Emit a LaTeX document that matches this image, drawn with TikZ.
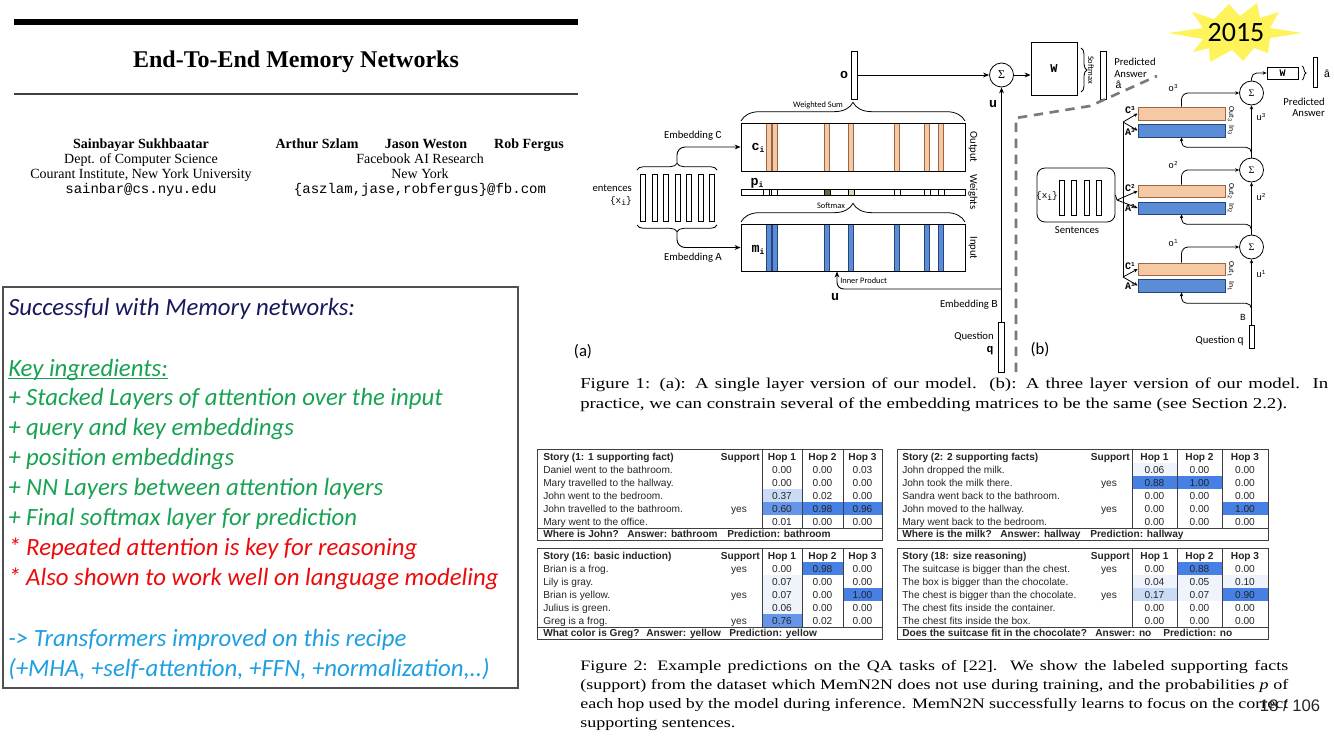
\documentclass[tikz,border=0pt]{standalone}
\usepackage{fontspec}
\setmainfont{Liberation Serif}
\newfontfamily\slidefont{Carlito}
\newfontfamily\tabfont{Liberation Sans}
\newfontfamily\codefont{Liberation Mono}
\usetikzlibrary{arrows.meta,decorations.pathreplacing,decorations.pathmorphing,fit,calc}

\definecolor{headnavy}{HTML}{17195C}
\definecolor{keygreen}{HTML}{17A352}
\definecolor{keyred}{HTML}{EE0A0A}
\definecolor{keyblue}{HTML}{1E9FE2}
\definecolor{outfill}{HTML}{F6C9A5}
\definecolor{outedge}{HTML}{9C6644}
\definecolor{infill}{HTML}{5A8DD5}
\definecolor{inedge}{HTML}{24467C}
\definecolor{wdark}{HTML}{56703F}
\definecolor{wlight}{HTML}{CFDDB8}
\definecolor{hopA}{HTML}{EEF3FC}
\definecolor{hopB}{HTML}{CADBF7}
\definecolor{hopC}{HTML}{6495E8}
\definecolor{hopD}{HTML}{4680E4}
\definecolor{burst}{HTML}{FFF35C}
\definecolor{framegray}{HTML}{505050}
\definecolor{dashgray}{HTML}{7A7A7A}

% small sub- and superscripts for the figure labels
\newcommand\lowi[1]{\raisebox{-1.8pt}{\fontsize{6}{6}\selectfont #1}}
\newcommand\upi[1]{\raisebox{2.8pt}{\fontsize{4.5}{4.5}\selectfont #1}}
\newcommand\sfsub[1]{\raisebox{-1pt}{\fontsize{4.5}{4.5}\selectfont #1}}
% caption lines of the pasted paper, which is widened on the slide
\newcommand\wideline[2]{\scalebox{1.25}[1]{\makebox[#1][s]{#2}}}
\newcommand\wide[1]{\scalebox{1.25}[1]{#1}}

\newlength\sqA
\newlength\sqB

% result tables: frame, header, story rows, question row, shaded cells
\newcommand\tframe{%
  \draw[tline] (\tL,\tT) rectangle (\tR,\tT+91);
  \draw[tline] (\tL,\tT+79) -- (\tR,\tT+79);
  \draw[tline] (\cA,\tT) -- (\cA,\tT+79) (\cB,\tT) -- (\cB,\tT+79) (\cC,\tT) -- (\cC,\tT+79);}
\newcommand\hl[4]{\fill[#4] (#1,\tT+1+13*#3) rectangle (#2,\tT+14+13*#3);}
\newcommand\thead[1]{%
  \node[tbold, anchor=base west, name=\tp-head] at (\tX,\tT+11) {#1};
  \node[tbold, anchor=base east, name=\tp-sup] at (\cA-2,\tT+11) {Support};
  \node[tbold, anchor=base, name=\tp-h1] at ({(\cA+\cB)/2},\tT+11) {Hop 1};
  \node[tbold, anchor=base, name=\tp-h2] at ({(\cB+\cC)/2},\tT+11) {Hop 2};
  \node[tbold, anchor=base, name=\tp-h3] at ({(\cC+\tR)/2},\tT+11) {Hop 3};}
\newcommand\trow[6]{%
  \node[tcell, anchor=base west, name=\tp-#1s] at (\tX,\tT+11+13*#1) {#2};
  \node[tcell, anchor=base, name=\tp-#1y] at (\cA-23,\tT+11+13*#1) {#3};
  \node[tcell, anchor=base, name=\tp-#1a] at ({(\cA+\cB)/2},\tT+11+13*#1) {#4};
  \node[tcell, anchor=base, name=\tp-#1b] at ({(\cB+\cC)/2},\tT+11+13*#1) {#5};
  \node[tcell, anchor=base, name=\tp-#1c] at ({(\cC+\tR)/2},\tT+11+13*#1) {#6};}
\newcommand\tquest[5]{%
  \node[tbold, anchor=base west, name=\tp-q] at (\tX,\tT+88.5) {#1};
  \node[tbold, anchor=base west, name=\tp-ans] at (#2,\tT+88.5) {#3};
  \node[tbold, anchor=base west, name=\tp-pred] at (#4,\tT+88.5) {#5};}

\begin{document}
\begin{tikzpicture}[x=0.75pt, y=-0.75pt,
  lbl/.style={inner sep=0pt, font=\slidefont\fontsize{8}{9}\selectfont},
  tinylbl/.style={inner sep=0pt, font=\slidefont\fontsize{6.3}{7}\selectfont},
  code/.style={inner sep=0pt, font=\codefont\bfseries\fontsize{10}{11}\selectfont},
  scode/.style={inner sep=0pt, font=\codefont\bfseries\fontsize{7.5}{8}\selectfont},
  vecbox/.style={draw, line width=0.55pt, inner sep=0pt, fill=white},
  membox/.style={draw, line width=0.6pt, inner sep=0pt},
  outbox/.style={draw=outedge, fill=outfill, line width=0.5pt, inner sep=0pt},
  inbox/.style={draw=inedge, fill=infill, line width=0.5pt, inner sep=0pt},
  sumnode/.style={draw, circle, line width=0.6pt, minimum size=18pt, inner sep=0pt, font=\fontsize{9}{9}\selectfont},
  brc/.style={decorate, line width=0.6pt},
  arr/.style={line width=0.7pt, -{Stealth[length=4.5pt,width=3.6pt]}},
  sarr/.style={line width=0.6pt, -{Stealth[length=3pt,width=2.6pt]}},
  tline/.style={draw=black!75, line width=0.55pt},
  tcell/.style={inner sep=0pt, text=black!85, font=\tabfont\fontsize{7.6}{9}\selectfont},
  tbold/.style={tcell, font=\tabfont\bfseries\fontsize{7.6}{9}\selectfont},
  auth/.style={inner sep=0pt, anchor=base, font=\fontsize{10.5}{12}\selectfont},
  authb/.style={auth, font=\bfseries\fontsize{10.5}{12}\selectfont},
  mail/.style={auth, font=\codefont\fontsize{10.5}{12}\selectfont},
  capt/.style={inner sep=0pt, anchor=base west, font=\fontsize{11.3}{12}\selectfont},
  captb/.style={inner sep=0pt, anchor=base west, font=\fontsize{10.8}{12}\selectfont},
  point/.style={inner sep=0pt, anchor=base west, font=\slidefont\itshape\fontsize{18.6}{22}\selectfont}
]
\useasboundingbox (0,0) rectangle (1334,750);
\fill[white] (0,0) rectangle (1334,750);

% ---------------- paper header
\draw[line width=4.6pt] (14,22) -- (578,22);
\node[inner sep=0pt, anchor=base, font=\bfseries\fontsize{18}{20}\selectfont, name=title] at (296,67) {End-To-End Memory Networks};
\draw[line width=1pt, black!75] (14,94) -- (578,94);
\node[authb, name=a1] at (141,148) {Sainbayar Sukhbaatar};
\node[auth, name=a1d] at (141,163) {Dept. of Computer Science};
\node[auth, name=a1i] at (141,178) {Courant Institute, New York University};
\node[mail, name=a1m] at (141,193) {sainbar@cs.nyu.edu};
\node[authb, name=a2] at (317,148) {Arthur Szlam};
\node[authb, name=a3] at (426,148) {Jason Weston};
\node[authb, name=a4] at (529,148) {Rob Fergus};
\node[auth, name=a2d] at (420,163) {Facebook AI Research};
\node[auth, name=a2c] at (420,178) {New York};
\node[mail, name=a2m] at (420,193) {\{aszlam,jase,robfergus\}@fb.com};

% ---------------- summary box
\draw[framegray, line width=0.8pt] (3,287) rectangle (518,688);
\node[point, text=headnavy, name=succ] at (8,315) {Successful with Memory networks:};
\node[point, text=keygreen, name=keyi] at (8,376) {Key ingredients:};
\draw[keygreen, line width=0.8pt] ($(keyi.base west)+(0,-2pt)$) -- ($(keyi.base east)+(0,-2pt)$);
\node[point, text=keygreen, name=ing1] at (8,405) {+ Stacked Layers of attention over the input};
\node[point, text=keygreen, name=ing2] at (8,435) {+ query and key embeddings};
\node[point, text=keygreen, name=ing3] at (8,465) {+ position embeddings};
\node[point, text=keygreen, name=ing4] at (8,495) {+ NN Layers between attention layers};
\node[point, text=keygreen, name=ing5] at (8,525) {+ Final softmax layer for prediction};
\settowidth{\sqA}{\slidefont\itshape\fontsize{18.6}{22}\selectfont + Final }
\settowidth{\sqB}{\slidefont\itshape\fontsize{18.6}{22}\selectfont softmax}
\draw[keyred, line width=0.45pt, decorate, decoration={snake, amplitude=0.55pt, segment length=2.2pt}]
  ($(ing5.base west)+(\sqA,-2.8pt)$) -- ++(\sqB,0pt);
\node[point, text=keyred, name=rep1] at (8,555) {* Repeated attention is key for reasoning};
\node[point, text=keyred, name=rep2] at (8,585) {* Also shown to work well on language modeling};
\node[point, text=keyblue, name=tr1] at (8,646) {-> Transformers improved on this recipe};
\node[point, text=keyblue, name=tr2] at (8,676) {(+MHA, +self-attention, +FFN, +normalization,..)};

% ---------------- (a) single layer model
% sentences and their two embeddings
\foreach \c in {640,652,663.5,675,686.5,698,709.5}
  \draw[line width=0.5pt] (\c,174) rectangle (\c+5,221);
\draw[brc, decoration={brace, amplitude=5pt}] (637,170) -- (717,170);
\draw[brc, decoration={brace, amplitude=5pt}] (717,225) -- (637,225);
\coordinate (tipC) at (677,163.5);
\coordinate (tipA) at (677,231.5);
\node[lbl, anchor=east, name=sentA] at (632,188) {entences};
\node[scode, font=\codefont\fontsize{7}{8}\selectfont, anchor=east, name=xiA] at (632,201) {\{x\lowi{i}\}};

% output memory
\foreach \c in {768.5,775,827,851,897,927,941}
  \filldraw[fill=outfill, draw=outedge, line width=0.45pt] (\c-2.3,123) rectangle (\c+2.3,171);
\node[membox, fit={(741,123) (965,171)}, name=outA] {};
% attention weights
\node[vecbox, fit={(741,189) (965,195)}, name=wbar] {};
\foreach \c/\f in {766/white,774.5/white,827/wdark,851/wlight,897/white,927/white,941/white}
  \filldraw[fill=\f, line width=0.45pt] (\c-3,189) rectangle (\c+3,195);
% input memory
\foreach \c in {768.5,775,827,851,897,927,941}
  \filldraw[fill=infill, draw=inedge, line width=0.45pt] (\c-2.3,224) rectangle (\c+2.3,271);
\node[membox, fit={(741,224) (965,271)}, name=inA] {};

\draw[arr, rounded corners=6pt] (tipC) |- (outA.west);
\draw[arr, rounded corners=6pt] (tipA) |- (inA.west);
\node[lbl, name=embC] at (693,136) {Embedding {\codefont C}};
\node[lbl, name=embA] at (693,258) {Embedding {\codefont A}};

\node[code, name=lci] at (758,148) {c\lowi{i}};
\node[code, name=lpi] at (757,183) {p\lowi{i}};
\node[code, name=lmi] at (758,250) {m\lowi{i}};
\node[lbl, rotate=-90, name=lout] at (973,147) {Output};
\node[lbl, rotate=-90, name=lwts] at (973,192) {Weights};
\node[lbl, rotate=-90, name=lin] at (973,248) {Input};

\draw[brc, decoration={brace, amplitude=14pt}] (741,121) -- (965,121);
\draw[brc, decoration={brace, amplitude=14pt}] (741,222) -- (965,222);
\node[tinylbl, name=wsum] at (818,105) {Weighted Sum};
\node[tinylbl, name=smx] at (831,206) {Softmax};

% output vector, sum and answer
\node[vecbox, fit={(851,51) (857,99)}, name=ovec] {};
\node[code, name=lo] at (844,75) {o};
\node[sumnode, name=sumA] at (1001.5,75) {Σ};
\draw[arr] (ovec.east) -- (sumA.west);
\node[membox, fit={(1031,42) (1077,95)}, name=Wa] {};
\node[code, font=\codefont\bfseries\fontsize{9}{9}\selectfont, name=lWa] at (1054,69) {W};
\draw[arr] (sumA.east) -- (Wa.west |- sumA.east);
\draw[brc, decoration={brace, amplitude=4.5pt}] (1081,48) -- (1081,92);
\node[tinylbl, rotate=-90, name=smxA] at (1091,70) {Softmax};
\node[vecbox, fit={(1100,51) (1106,99)}, name=ansA] {};
\node[lbl, anchor=west, name=pa1] at (1114,62) {Predicted};
\node[lbl, anchor=west, name=pa2] at (1114,74) {Answer};
\node[scode, font=\codefont\fontsize{8}{8}\selectfont, anchor=west, name=pa3] at (1115,85) {â};

% question and its embedding
\node[vecbox, fit={(998.5,322) (1004.5,372)}, name=qA] {};
\draw[arr] (qA.north) -- (sumA.south);
\coordinate (jA) at (1001.5,289);
\coordinate (ipT) at (837,271.5);
\draw[arr, rounded corners=5pt] (jA) -| (ipT);
\node[tinylbl, anchor=west, name=ip] at (840,281) {Inner Product};
\node[code, name=lu1] at (835,297) {u};
\node[code, name=lu2] at (993,104) {u};
\node[lbl, anchor=east, name=embB] at (998,305) {Embedding {\codefont B}};
\node[lbl, name=qlbl] at (974,337) {Question};
\node[scode, font=\codefont\bfseries\fontsize{8.5}{9}\selectfont, name=qq] at (990,351) {q};
\node[inner sep=0pt, font=\slidefont\fontsize{12.5}{14}\selectfont, name=pa] at (583,352) {(a)};

% dashed zoom outline
\draw[dashgray, line width=2pt, dash pattern=on 7pt off 5pt] (1016,372) -- (1016,118) -- (1090,106) -- (1157,76);

% ---------------- (b) three layer model
\node[draw, rounded corners=6pt, line width=0.6pt, inner sep=0pt, fit={(1037,168) (1115,222)}, name=sentB] {};
\foreach \c in {1059,1071.5,1084,1096.5}
  \draw[line width=0.5pt] (\c,180) rectangle (\c+5,215);
\node[scode, font=\codefont\fontsize{7}{8}\selectfont, name=xiB] at (1047,196) {\{x\lowi{i}\}};
\node[lbl, name=sentlbl] at (1077,230) {Sentences};
\node[inner sep=0pt, font=\slidefont\fontsize{12.5}{14}\selectfont, name=pb] at (1040,350) {(b)};

\node[outbox, fit={(1138,107) (1225,120)}, name=C3] {};
\node[inbox,  fit={(1138,124) (1225,137)}, name=A3] {};
\node[outbox, fit={(1138,185) (1225,197)}, name=C2] {};
\node[inbox,  fit={(1138,202) (1225,214)}, name=A2] {};
\node[outbox, fit={(1138,263) (1225,275)}, name=C1] {};
\node[inbox,  fit={(1138,279) (1225,292)}, name=A1] {};

\node[scode, name=lC3] at (1130,110) {C\upi{3}};
\node[scode, name=lA3] at (1130,132) {A\upi{3}};
\node[scode, name=lC2] at (1130,188) {C\upi{2}};
\node[scode, name=lA2] at (1130,208) {A\upi{2}};
\node[scode, name=lC1] at (1130,266) {C\upi{1}};
\node[scode, name=lA1] at (1130,286) {A\upi{1}};
\foreach \k/\yo/\yi in {3/114/130, 2/191/208, 1/269/286}{
  \node[inner sep=0pt, rotate=-90, font=\slidefont\fontsize{5.8}{6}\selectfont, name=out\k] at (1231,\yo) {Out\sfsub{\k}};
  \node[inner sep=0pt, rotate=-90, font=\slidefont\fontsize{5.8}{6}\selectfont, name=in\k] at (1231,\yi) {In\sfsub{\k}};
}

% sentences fan out to each layer
\coordinate (fk3) at (1123,122);
\coordinate (fk2) at (1117,200);
\coordinate (fk1) at (1123,277);
\draw[line width=0.6pt] (fk3) -- (fk1);
\draw[line width=0.6pt] (sentB.east) -- (fk2);
\draw[sarr] (fk3) -- (C3.west);
\draw[sarr] (fk3) -- (A3.west);
\draw[sarr] (fk2) -- (C2.west);
\draw[sarr] (fk2) -- (A2.west);
\draw[sarr] (fk1) -- (C1.west);
\draw[sarr] (fk1) -- (A1.west);

% sums along the controller path
\node[sumnode, font=\fontsize{7.5}{8}\selectfont, name=S3] at (1251.5,93) {Σ};
\node[sumnode, font=\fontsize{7.5}{8}\selectfont, name=S2] at (1251.5,170) {Σ};
\node[sumnode, font=\fontsize{7.5}{8}\selectfont, name=S1] at (1251.5,247) {Σ};
\node[vecbox, fit={(1249,325) (1254,348)}, name=qB] {};
\draw[sarr] (qB.north) -- (S1.south);
\draw[sarr] (S1.north) -- (S2.south);
\draw[sarr] (S2.north) -- (S3.south);

\coordinate (jb1) at (1251.5,313);
\coordinate (jb2) at (1251.5,233);
\coordinate (jb3) at (1251.5,156);
\draw[sarr, rounded corners=4pt] (jb1) |- ([yshift=-8.25pt]A1.south) -- (A1.south);
\draw[sarr, rounded corners=4pt] (jb2) |- ([yshift=-7.5pt]A2.south) -- (A2.south);
\draw[sarr, rounded corners=4pt] (jb3) |- ([yshift=-7.5pt]A3.south) -- (A3.south);
\draw[sarr, rounded corners=5pt] (C1.north) |- (S1.west);
\draw[sarr, rounded corners=5pt] (C2.north) |- (S2.west);
\draw[sarr, rounded corners=5pt] (C3.north) |- (S3.west);

\node[scode, font=\codefont\fontsize{7}{8}\selectfont, name=lo1] at (1173,243) {o\upi{1}};
\node[scode, font=\codefont\fontsize{7}{8}\selectfont, name=lo2] at (1173,165) {o\upi{2}};
\node[scode, font=\codefont\fontsize{7}{8}\selectfont, name=lo3] at (1173,88) {o\upi{3}};
\node[scode, font=\codefont\fontsize{7}{8}\selectfont, anchor=west, name=lu1b] at (1256,274) {u\upi{1}};
\node[scode, font=\codefont\fontsize{7}{8}\selectfont, anchor=west, name=lu2b] at (1256,197) {u\upi{2}};
\node[scode, font=\codefont\fontsize{7}{8}\selectfont, anchor=west, name=lu3b] at (1256,117) {u\upi{3}};
\node[scode, font=\codefont\fontsize{7}{8}\selectfont, name=lB] at (1243,317) {B};
\node[lbl, anchor=east, name=qlblB] at (1244,341) {Question {\codefont q}};

\node[membox, fit={(1267,67) (1298,79)}, name=Wb] {};
\node[scode, font=\codefont\bfseries\fontsize{7.5}{8}\selectfont, name=lWb] at (1282.5,73) {W};
\draw[sarr, rounded corners=4pt] (S3.north) |- (Wb.west);
\draw[brc, decoration={brace, amplitude=3pt}] (1302,66) -- (1302,80);
\node[vecbox, fit={(1313,57) (1317,87)}, name=ansB] {};
\node[scode, font=\codefont\fontsize{8}{8}\selectfont, name=lab] at (1327,74) {â};
\node[lbl, anchor=east, name=pb1] at (1325,102) {Predicted};
\node[lbl, anchor=east, name=pb2] at (1325,113) {Answer};

% ---------------- year badge
\fill[burst] (1168,33) -- (1203,28) -- (1192,12) -- (1214,19) -- (1229,4) -- (1240,16) -- (1257,3)
  -- (1260,18) -- (1279,12) -- (1270,28) -- (1302,33) -- (1270,38) -- (1268,53) -- (1254,48)
  -- (1243,61) -- (1232,50) -- (1210,62) -- (1209,48) -- (1193,52) -- (1203,39) -- cycle;
\node[inner sep=0pt, font=\slidefont\fontsize{21}{22}\selectfont, name=yr] at (1236,33) {2015};

% ---------------- captions
\node[capt, name=cap1a] at (580,388) {\wideline{448.8pt}{Figure 1: (a): A single layer version of our model.\ \ (b): A three layer version of our model.\ \ In}};
\node[capt, name=cap1b] at (580,408) {\wide{practice, we can constrain several of the embedding matrices to be the same (see Section 2.2).}};

\node[captb, name=cap2a] at (580,670) {\wideline{424.8pt}{Figure 2: Example predictions on the QA tasks of [22].\ \ We show the labeled supporting facts}};
\node[captb, name=cap2b] at (580,689) {\wideline{424.8pt}{(support) from the dataset which MemN2N does not use during training, and the probabilities \textit{p} of}};
\node[captb, name=cap2c] at (580,708) {\wideline{424.8pt}{each hop used by the model during inference. MemN2N successfully learns to focus on the correct}};
\node[captb, name=cap2d] at (580,727) {\wide{supporting sentences.}};
\node[inner sep=0pt, text=black!85, font=\tabfont\fontsize{12.5}{14}\selectfont, name=pgno] at (1290,706) {18 / 106};

% ---------------- tables
\begin{scope}
\def\tp{t1}\def\tL{537}\def\tR{882}\def\tX{543}\def\cA{762}\def\cB{802}\def\cC{843}\def\tT{449}
\hl{\cA}{\cB}{3}{hopB}
\hl{\cA}{\cB}{4}{hopC}
\hl{\cB}{\cC}{4}{hopD}
\hl{\cC}{\tR}{4}{hopD}
\tframe
\thead{Story (1: 1 supporting fact)}
\trow{1}{Daniel went to the bathroom.}{}{0.00}{0.00}{0.03}
\trow{2}{Mary travelled to the hallway.}{}{0.00}{0.00}{0.00}
\trow{3}{John went to the bedroom.}{}{0.37}{0.02}{0.00}
\trow{4}{John travelled to the bathroom.}{yes}{0.60}{0.98}{0.96}
\trow{5}{Mary went to the office.}{}{0.01}{0.00}{0.00}
\tquest{Where is John?}{627}{Answer: bathroom}{727}{Prediction: bathroom}
\end{scope}

\begin{scope}
\def\tp{t2}\def\tL{897}\def\tR{1268}\def\tX{902}\def\cA{1132}\def\cB{1177}\def\cC{1222}\def\tT{449}
\hl{\cA}{\cB}{1}{hopA}
\hl{\cA}{\cB}{2}{hopD}
\hl{\cB}{\cC}{2}{hopD}
\hl{\cC}{\tR}{4}{hopD}
\tframe
\thead{Story (2: 2 supporting facts)}
\trow{1}{John dropped the milk.}{}{0.06}{0.00}{0.00}
\trow{2}{John took the milk there.}{yes}{0.88}{1.00}{0.00}
\trow{3}{Sandra went back to the bathroom.}{}{0.00}{0.00}{0.00}
\trow{4}{John moved to the hallway.}{yes}{0.00}{0.00}{1.00}
\trow{5}{Mary went back to the bedroom.}{}{0.00}{0.00}{0.00}
\tquest{Where is the milk?}{1000}{Answer: hallway}{1090}{Prediction: hallway}
\end{scope}

\begin{scope}
\def\tp{t3}\def\tL{537}\def\tR{882}\def\tX{543}\def\cA{762}\def\cB{802}\def\cC{843}\def\tT{548}
\hl{\cB}{\cC}{1}{hopD}
\hl{\cA}{\cB}{2}{hopA}
\hl{\cA}{\cB}{3}{hopA}
\hl{\cC}{\tR}{3}{hopD}
\hl{\cA}{\cB}{4}{hopA}
\hl{\cA}{\cB}{5}{hopC}
\tframe
\thead{Story (16: basic induction)}
\trow{1}{Brian is a frog.}{yes}{0.00}{0.98}{0.00}
\trow{2}{Lily is gray.}{}{0.07}{0.00}{0.00}
\trow{3}{Brian is yellow.}{yes}{0.07}{0.00}{1.00}
\trow{4}{Julius is green.}{}{0.06}{0.00}{0.00}
\trow{5}{Greg is a frog.}{yes}{0.76}{0.02}{0.00}
\tquest{What color is Greg?}{646}{Answer: yellow}{729}{Prediction: yellow}
\end{scope}

\begin{scope}
\def\tp{t4}\def\tL{897}\def\tR{1268}\def\tX{902}\def\cA{1132}\def\cB{1177}\def\cC{1222}\def\tT{548}
\hl{\cB}{\cC}{1}{hopD}
\hl{\cA}{\cB}{2}{hopA}
\hl{\cB}{\cC}{2}{hopA}
\hl{\cC}{\tR}{2}{hopA}
\hl{\cA}{\cB}{3}{hopB}
\hl{\cB}{\cC}{3}{hopA}
\hl{\cC}{\tR}{3}{hopD}
\tframe
\thead{Story (18: size reasoning)}
\trow{1}{The suitcase is bigger than the chest.}{yes}{0.00}{0.88}{0.00}
\trow{2}{The box is bigger than the chocolate.}{}{0.04}{0.05}{0.10}
\trow{3}{The chest is bigger than the chocolate.}{yes}{0.17}{0.07}{0.90}
\trow{4}{The chest fits inside the container.}{}{0.00}{0.00}{0.00}
\trow{5}{The chest fits inside the box.}{}{0.00}{0.00}{0.00}
\tquest{Does the suitcase fit in the chocolate?}{1095}{Answer: no}{1163}{Prediction: no}
\end{scope}
\end{tikzpicture}
\end{document}
